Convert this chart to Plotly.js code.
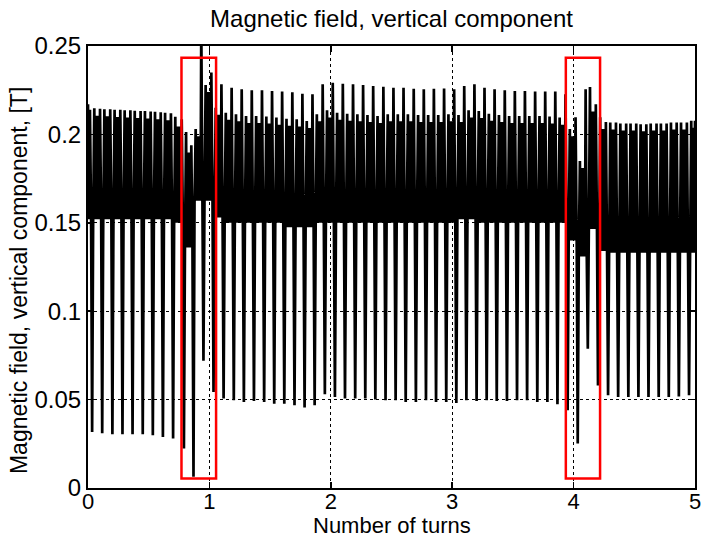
<!DOCTYPE html>
<html><head><meta charset="utf-8">
<script src="https://cdn.plot.ly/plotly-3.0.1.min.js"></script>
<style>html,body{margin:0;padding:0;background:#fff}#chart{width:701px;height:539px}</style>
</head><body><div id="chart"></div>
<script>
// x position (turns) of each dip of the signal
const dipX = [0.034,0.117,0.201,0.284,0.367,0.451,0.534,0.617,0.701,0.790,0.869,0.951,
  1.034,1.117,1.201,1.284,1.367,1.451,1.534,1.617,1.701,1.784,1.867,1.951,
  2.034,2.117,2.201,2.284,2.367,2.451,2.534,2.617,2.701,2.784,2.867,2.951,
  3.034,3.117,3.201,3.284,3.367,3.451,3.534,3.617,3.701,3.784,3.867,3.951,
  4.034,4.117,4.201,4.284,4.367,4.451,4.534,4.617,4.701,4.784,4.867,4.951];
// minimum value of each dip [T]
const dipY = [0.0317,0.0310,0.0304,0.0304,0.0304,0.0304,0.0298,0.0289,0.0280,0.0223,0.0063,0.0720,0.0543,
  0.0506,0.0496,0.0487,0.0492,0.0487,0.0477,0.0477,0.0468,0.0455,0.0468,0.0530,0.0515,0.0506,0.0506,0.0506,0.0501,0.0496,
  0.0496,0.0487,0.0487,0.0496,0.0487,0.0487,0.0481,0.0496,0.0492,0.0496,0.0492,0.0492,0.0496,0.0496,0.0487,0.0487,0.0474,
  0.0440,0.0252,0.0788,0.0580,
  0.0524,0.0515,0.0515,0.0515,0.0515,0.0515,0.0515,0.0518,0.0524];
// upper lobes between dips: peak right after the dip, peak right before the next dip, lower edge
const lobeLeft = [0.2170,
  0.2148,0.2142,0.2139,0.2136,0.2134,0.2132,0.2128,0.2123,0.2100,
  0.2013,0.2030,0.2280,0.2151,
  0.2123,0.2114,0.2104,0.2104,0.2101,0.2095,0.2089,0.2085,0.2076,
  0.2114,0.2136,0.2123,0.2117,0.2114,0.2110,0.2104,0.2114,
  0.2114,0.2114,0.2110,0.2110,0.2110,0.2114,0.2110,0.2136,0.2132,0.2117,0.2110,0.2104,0.2104,0.2104,0.2104,0.2101,0.2095,
  0.2030,0.1850,0.2268,0.2097,
  0.2067,0.2062,0.2062,0.2058,0.2062,0.2062,0.2067,0.2067,0.2077];
const lobeRight = [0.2140,
  0.2145,0.2142,0.2139,0.2136,0.2132,0.2130,0.2125,0.2120,0.2085,
  0.1938,0.2620,0.2350,0.2283,
  0.2264,0.2255,0.2249,0.2249,0.2245,0.2242,0.2238,0.2230,0.2227,
  0.2283,0.2292,0.2287,0.2283,0.2279,0.2273,0.2270,0.2264,
  0.2264,0.2258,0.2255,0.2258,0.2260,0.2255,0.2274,0.2283,0.2264,0.2255,0.2249,0.2245,0.2245,0.2242,0.2242,0.2242,0.2227,
  0.2097,0.2255,0.2170,0.2070,
  0.2067,0.2062,0.2062,0.2058,0.2062,0.2062,0.2067,0.2067,0.2077];
const lobeLow = [0.152,0.152,0.152,0.152,0.152,0.152,0.152,0.152,0.152,0.150,
  0.136,0.1625,0.1625,0.153,
  0.150,0.150,0.150,0.150,0.150,0.150,0.1475,0.1475,0.1475,
  0.150,0.150,0.150,0.150,0.150,0.150,0.150,0.150,0.150,0.150,0.150,0.150,0.150,0.150,
  0.152,0.152,
  0.150,0.150,0.150,0.150,0.150,0.150,0.150,0.150,0.150,
  0.140,0.131,0.1465,0.134,
  0.133,0.133,0.133,0.133,0.133,0.133,0.133,0.133,0.133];
const xTicks = [0,1,2,3,4,5];
const xTickText = ['0','1','2','3','4','5'];
const yTicks = [0,0.05,0.1,0.15,0.2,0.25];
const yTickText = ['0','0.05','0.1','0.15','0.2','0.25'];
const xStart = 0, xEnd = 5;
const titleText = 'Magnetic field, vertical component';
const xTitleText = 'Number of turns';
const yTitleText = 'Magnetic field, vertical component, [T]';

// assemble the polyline from the read values
const OFF = 0.018, IN = 0.0085, STEP = 0.0063, RIP = 0.004;
const xs = [], ys = [];
function lobe(a, b, left, right, low) {
  xs.push(a); ys.push(left);
  const hi = Math.min(left, right) - RIP;
  let n = Math.max(1, Math.round((b - a) / STEP) - 1);
  if (n % 2 === 0) n += 1;
  for (let i = 1; i <= n; i++) { xs.push(a + (b - a) * i / (n + 1)); ys.push(i % 2 === 1 ? low : hi); }
  xs.push(b); ys.push(right);
}
lobe(xStart, dipX[0] - OFF, lobeLeft[0], lobeRight[0], lobeLow[0]);
for (let k = 0; k < dipX.length; k++) {
  const j = k + 1;
  xs.push(dipX[k] - IN); ys.push(lobeLow[k]);
  xs.push(dipX[k]); ys.push(dipY[k]);
  xs.push(dipX[k] + IN); ys.push(lobeLow[j]);
  const a = dipX[k] + OFF;
  const b = (k + 1 < dipX.length) ? dipX[k + 1] - OFF : xEnd;
  lobe(a, b, lobeLeft[j], lobeRight[j], lobeLow[j]);
}

const FAM = '"Liberation Sans", Arial, Helvetica, sans-serif';
const FONT = {family: FAM, size: 24, color: '#000'};
const axisCommon = {
  showgrid: true, gridcolor: '#000', griddash: 'dot', gridwidth: 1,
  zeroline: false, showline: true, linecolor: '#000', linewidth: 2, mirror: 'ticks',
  ticks: 'inside', ticklen: 6, tickwidth: 1.5, tickcolor: '#000', tickfont: FONT,
  ticklabeloverflow: 'allow', automargin: false
};
const layout = {
  width: 701, height: 539,
  margin: {l: 88, r: 6, t: 46, b: 51},
  paper_bgcolor: '#fff', plot_bgcolor: '#fff',
  showlegend: false,
  title: {text: titleText, font: FONT, x: 0.5, xref: 'paper', y: 0.966, yref: 'container', yanchor: 'middle'},
  xaxis: Object.assign({}, axisCommon, {range: [0, 5], tickvals: xTicks, ticktext: xTickText, ticklabelstandoff: -7,
    tickfont: {family: FAM, size: 22, color: '#000'}}),
  yaxis: Object.assign({}, axisCommon, {range: [0, 0.25], tickvals: yTicks, ticktext: yTickText}),
  annotations: [
    {text: xTitleText, xref: 'paper', yref: 'paper', x: 0.5, y: -0.084, xanchor: 'center', yanchor: 'middle',
     showarrow: false, font: {family: FAM, size: 22, color: '#000'}},
    {text: yTitleText, xref: 'paper', yref: 'paper', x: -0.114, y: 0.47, xanchor: 'center', yanchor: 'middle',
     textangle: -90, showarrow: false, font: {family: FAM, size: 23, color: '#000'}}
  ],
  shapes: [
    {type: 'rect', xref: 'x', yref: 'y', x0: 0.770, x1: 1.055, y0: 0.0054, y1: 0.2433, line: {color: '#ff0000', width: 2.5}, fillcolor: 'rgba(0,0,0,0)', layer: 'above'},
    {type: 'rect', xref: 'x', yref: 'y', x0: 3.936, x1: 4.218, y0: 0.0054, y1: 0.2433, line: {color: '#ff0000', width: 2.5}, fillcolor: 'rgba(0,0,0,0)', layer: 'above'}
  ]
};
Plotly.newPlot('chart', [{
  x: xs, y: ys, type: 'scatter', mode: 'lines',
  line: {color: '#000', width: 2.7, simplify: false}, hoverinfo: 'skip'
}], layout, {staticPlot: true, displayModeBar: false});
</script></body></html>
